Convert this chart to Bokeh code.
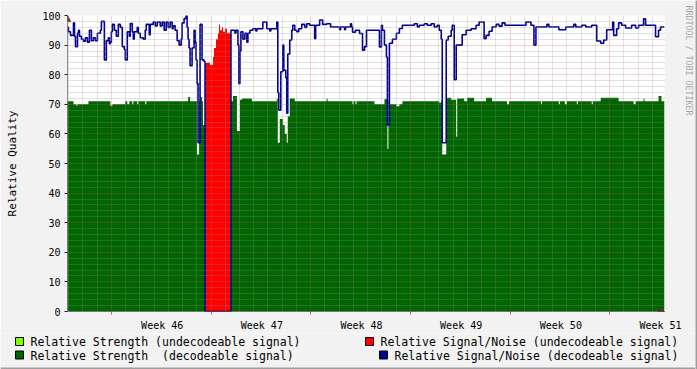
import numpy as np
from bokeh.plotting import figure
from bokeh.models import Range1d, FixedTicker, Grid, Arrow, NormalHead, Title, ColumnDataSource
from bokeh.layouts import column, row
from bokeh.embed import file_html
from bokeh.resources import INLINE
from bokeh.core.properties import value

# ---------------- data (time in samples of 1.68 h from chart start) ----------------
N_SAMPLES = 599

# Relative Signal/Noise (decodeable signal) - step breakpoints
snr_t = [0, 1, 3, 6, 7, 8, 10, 11, 12, 14, 16, 18, 20, 22, 24, 26, 28, 30, 33, 34, 37, 39, 41, 42, 43, 44,
         45, 47, 49, 51, 53, 55, 57, 58, 60, 62, 63, 65, 66, 67, 70, 71, 73, 76, 78, 79, 82, 83, 86, 88, 90,
         93, 95, 97, 99, 101, 103, 105, 106, 108, 110, 112, 114, 115, 117, 119, 120, 121, 122, 123, 125, 127,
         128, 129, 130, 131, 133, 135, 137, 138, 164, 168, 169, 171, 172, 173, 174, 176, 178, 180, 181, 183,
         186, 189, 190, 196, 200, 203, 204, 210, 211, 212, 214, 216, 217, 219, 220, 221, 223, 225, 226, 228,
         230, 232, 235, 238, 240, 243, 248, 249, 253, 256, 260, 264, 273, 274, 278, 279, 284, 285, 286, 289,
         293, 296, 298, 300, 313, 315, 316, 318, 320, 321, 323, 326, 330, 333, 336, 348, 351, 353, 358, 361,
         365, 368, 371, 373, 375, 376, 380, 382, 385, 386, 388, 390, 396, 400, 405, 410, 413, 418, 420, 423,
         426, 430, 433, 436, 439, 460, 465, 468, 470, 481, 483, 493, 500, 508, 510, 516, 520, 526, 531, 535,
         538, 541, 547, 548, 551, 553, 556, 560, 566, 570, 573, 578, 580, 590, 593, 595, 599]
snr_v = [96, 94.5, 93.3, 97.5, 93, 89.5, 94, 95, 93, 92, 91.3, 92.5, 91, 95, 91.5, 92.5, 91.5, 94, 95, 98, 85,
         91.5, 92.5, 90.5, 91, 94.5, 97, 95, 93, 97, 96, 89.5, 88.5, 85, 94.5, 93, 97.3, 94.5, 92, 94.5, 96,
         94, 92.5, 92, 95, 97, 93.5, 97, 97.8, 96.5, 97.8, 96.5, 97.8, 95, 97.8, 96, 97.8, 95.5, 96.5, 95,
         91.5, 90, 92, 97.5, 99, 100, 96, 92, 89, 83, 89, 95, 91, 85, 77, 57, 97, 85, 84.5, 0, 95, 94, 95,
         90, 77, 88, 94.5, 92, 94, 91, 94, 95, 95.5, 94.8, 95.5, 97.8, 95.5, 94.8, 95.5, 97.8, 74, 68, 81,
         90, 81.5, 79, 67, 87, 91.7, 95, 96.7, 95, 94.5, 95.5, 97, 96, 97.2, 96.7, 92.2, 96.7, 98.5, 97,
         97.2, 96.1, 95.2, 96.1, 95.2, 96.1, 97.2, 96.1, 94.4, 95, 93.9, 88.3, 89.5, 95, 89.4, 96.7, 95, 90,
         86, 63, 90.6, 92, 94, 95.6, 96.7, 97.2, 96.1, 96.7, 97.2, 96.7, 97.2, 96.1, 96.7, 95, 92, 57, 91.7,
         93, 95, 96.7, 78.3, 90, 93.5, 95, 95.5, 96.7, 97.8, 92.2, 93.3, 94.7, 96.1, 97, 96.4, 97.5, 96.7,
         97.8, 96.7, 90, 96.1, 97, 96.1, 95.2, 96.1, 97, 96.1, 96.7, 96.1, 96.7, 91.4, 90.6, 91.7, 95.2,
         97.8, 93.3, 95.5, 97.5, 96.7, 95.8, 96.7, 95.8, 96.7, 98.9, 96.7, 92.8, 95, 96.1, 96.1]

# Relative Signal/Noise (undecodeable signal)
snr_undec_t = [138, 143, 146, 147, 149, 151, 152, 153, 155, 156, 158, 160, 164]
snr_undec_v = [84, 83.3, 86, 89, 92, 94, 97, 95, 96, 94.5, 95.5, 94, 94]

# Relative Strength (decodeable signal)
str_t = [0, 6, 9, 10, 21, 43, 45, 58, 60, 62, 65, 66, 70, 71, 78, 79, 121, 123, 130, 132, 133, 135, 136,
         138, 164, 166, 170, 173, 175, 185, 210, 211, 213, 216, 218, 220, 221, 223, 228, 260, 261, 286, 287,
         289, 290, 308, 318, 320, 321, 322, 323, 330, 333, 336, 373, 375, 376, 380, 385, 390, 391, 398, 401,
         408, 420, 426, 441, 443, 475, 476, 493, 494, 499, 501, 511, 512, 526, 527, 535, 553, 568, 570, 578,
         579, 593, 596, 599]
str_v = [71, 70, 69.5, 70, 71, 69.5, 70, 71, 70, 71, 70, 71, 70, 71, 70, 71, 72.5, 71, 53, 71, 72.5, 71, 63,
         0, 71, 72.8, 61, 71.5, 72, 71, 72, 57, 65, 63, 60, 57, 66, 72, 71, 72, 71, 70, 71, 70, 71, 70, 71.7,
         72, 55, 71, 70, 69.3, 70, 71, 70.5, 71, 53, 72.2, 71.5, 59, 72, 71, 72.2, 71, 72.2, 71, 70, 71, 70,
         71, 70, 71, 70, 71, 70, 71, 70, 71, 72.2, 71, 70, 71, 72, 71, 72.8, 71, 71]

# Relative Strength (undecodeable signal)
str_undec_t = [138, 150, 164]
str_undec_v = [70, 71, 71]

week_labels = ["Week 46", "Week 47", "Week 48", "Week 49", "Week 50", "Week 51"]
week_label_pos = [95, 195, 295, 395, 495, 595]
week_grid_pos = [44, 144, 244, 344, 444, 544]
SAMPLES_PER_DAY = 100 / 7

legend_labels = ["Relative Strength (undecodeable signal)",
                 "Relative Signal/Noise (undecodeable signal)",
                 "Relative Strength  (decodeable signal)",
                 "Relative Signal/Noise (decodeable signal)"]

# ---------------- style / layout ----------------
FONT = "DejaVu Sans Mono"
BG = "#f2f2f2"
EDGE = "#9e9e9e"
C_STR_UNDEC = "#80ff00"
C_STR = "#006600"
C_SNR_UNDEC = "#ff0000"
C_SNR = "#000090"
C_GRID = "#8f8f8f"
C_MGRID = "#de4f4f"
C_AXIS = "#202020"
C_ARROW = "#802020"
legend_colors = [C_STR_UNDEC, C_SNR_UNDEC, C_STR, C_SNR]

W = 695            # content width (2 px right bevel added beside)
PH = 333           # main plot height
LH = 36            # legend strip height (incl. 2 px bottom bevel)

p = figure(width=W, height=PH, x_range=Range1d(0, N_SAMPLES), y_range=Range1d(0, 100),
           output_backend="svg", toolbar_location=None,
           min_border_left=67, min_border_right=W - 666, min_border_top=15, min_border_bottom=PH - 315,
           border_fill_color=BG, background_fill_color="white", outline_line_color=None)
p.frame_align = False

p.varea_step(x=str_undec_t, y1=0, y2=str_undec_v, step_mode="after", fill_color=C_STR_UNDEC)
p.varea_step(x=str_t, y1=0, y2=str_v, step_mode="after", fill_color=C_STR)
p.varea_step(x=snr_undec_t, y1=0, y2=snr_undec_v, step_mode="after", fill_color=C_SNR_UNDEC)
p.step(x=snr_t, y=snr_v, mode="after", line_color=C_SNR, line_width=1.6)

# grids
p.xgrid.visible = False
p.ygrid.visible = False
x_minor = [week_grid_pos[0] + k * SAMPLES_PER_DAY for k in range(-3, 40) if k % 7 != 0]
x_minor = [v for v in x_minor if 0 < v < N_SAMPLES]
y_minor = [v for v in range(2, 100, 2) if v % 10 != 0]
gx = Grid(dimension=0, ticker=FixedTicker(ticks=week_grid_pos, minor_ticks=x_minor),
          grid_line_color=C_MGRID, grid_line_alpha=0.5, grid_line_dash="1 1",
          minor_grid_line_color=C_GRID, minor_grid_line_alpha=0.5, minor_grid_line_dash="1 1", level="overlay")
gy = Grid(dimension=1, ticker=FixedTicker(ticks=list(range(10, 101, 10)), minor_ticks=y_minor),
          grid_line_color=C_MGRID, grid_line_alpha=0.5, grid_line_dash="1 1",
          minor_grid_line_color=C_GRID, minor_grid_line_alpha=0.5, minor_grid_line_dash="1 1", level="overlay")
p.add_layout(gx, "center")
p.add_layout(gy, "center")

# axes
xa = p.xaxis[0]
xa.ticker = FixedTicker(ticks=week_label_pos, minor_ticks=week_grid_pos)
xa.major_label_overrides = {pos: lab for pos, lab in zip(week_label_pos, week_labels)}
xa.major_tick_out = 0
xa.major_tick_in = 0
xa.minor_tick_out = 3
xa.minor_tick_in = 0
xa.minor_tick_line_color = C_MGRID
xa.major_label_standoff = 5
xa.axis_line_color = None
xa.major_label_text_font = FONT
xa.major_label_text_font_size = "10px"
xa.major_label_text_color = "black"

ya = p.yaxis[0]
ya.ticker = FixedTicker(ticks=list(range(0, 101, 10)), minor_ticks=[])
ya.major_tick_out = 3
ya.major_tick_in = 0
ya.major_tick_line_color = C_AXIS
ya.major_label_standoff = 4
ya.axis_line_color = None
ya.major_label_text_font = FONT
ya.major_label_text_font_size = "10px"
ya.major_label_text_color = "black"
ya.axis_label = "Relative Quality"
ya.axis_label_text_font = FONT
ya.axis_label_text_font_size = "11px"
ya.axis_label_text_font_style = "normal"
ya.axis_label_text_color = "black"
ya.axis_label_standoff = 20

# axis lines with arrow heads
p.add_layout(Arrow(x_start=0, y_start=0, x_end=N_SAMPLES, y_end=0, line_color=C_AXIS, line_width=1,
                   end=NormalHead(size=6, fill_color=C_ARROW, line_color=C_ARROW)))
p.add_layout(Arrow(x_start=0, y_start=0, x_end=0, y_end=100, line_color=C_AXIS, line_width=1,
                   end=NormalHead(size=6, fill_color=C_ARROW, line_color=C_ARROW)))

# watermark (spacer title pushes it outwards)
p.add_layout(Title(text="\u00a0", text_font=FONT, text_font_size="8.3px", standoff=7), "right")
p.add_layout(Title(text="RRDTOOL / TOBI OETIKER", text_font=FONT, text_font_size="8.3px",
                   text_font_style="normal", text_color="#a8a8a8", align="left", offset=-10,
                   standoff=0), "right")

# ---------------- legend strip (pixel-addressed figure) ----------------
leg = figure(width=W, height=LH, x_range=Range1d(0, W), y_range=Range1d(LH, 0),
             output_backend="svg", toolbar_location=None, min_border=0,
             x_axis_location=None, y_axis_location=None,
             border_fill_color=BG, background_fill_color=BG, outline_line_color=None)
leg.frame_align = False
leg.grid.visible = False
lsrc = ColumnDataSource(dict(
    sx=[19, 369, 19, 383], sy=[8, 8, 21.5, 21.5],
    tx=[30, 380, 30, 394], ty=[8.5, 8.5, 22, 22],
    color=legend_colors,
    label=[s.replace("  ", " \u00a0") for s in legend_labels]))
leg.rect(x="sx", y="sy", width=8, height=8, width_units="screen", height_units="screen",
         fill_color="color", line_color="black", line_width=1, source=lsrc)
leg.text(x="tx", y="ty", text="label", text_font=value(FONT), text_font_size="11.5px",
         text_baseline="middle", text_align="left", text_color="black", source=lsrc)
leg.quad(left=[0], right=[W], top=[LH - 2], bottom=[LH], fill_color=EDGE, line_color=None)

# right bevel strip
right = figure(width=2, height=PH + LH, output_backend="svg", toolbar_location=None, min_border=0,
               x_axis_location=None, y_axis_location=None,
               border_fill_color=EDGE, background_fill_color=EDGE, outline_line_color=None)
right.frame_align = False
right.grid.visible = False

layout = row(column(p, leg), right)
open("out.html", "w").write(file_html(layout, INLINE))
